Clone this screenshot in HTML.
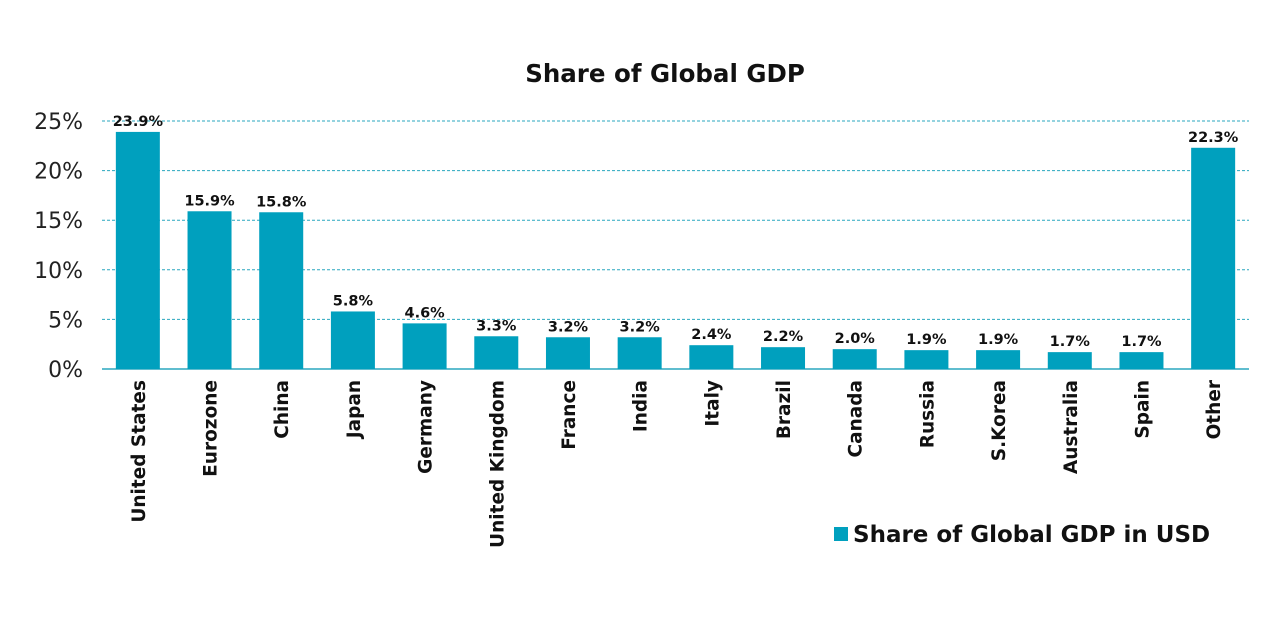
<!DOCTYPE html>
<html><head><meta charset="utf-8"><style>
body{margin:0;background:#fff;}
svg{display:block;font-family:"DejaVu Sans","Liberation Sans",sans-serif;}
</style></head><body>
<svg id="chart" width="1280" height="632">
<text x="665" y="82" text-anchor="middle" font-size="24.5" font-weight="bold" fill="#111">Share of Global GDP</text>
<g id="grid"></g><g id="bars"></g><g id="labels"></g>
<rect x="834" y="527" width="14" height="14" fill="#00A0BE"/>
<text x="853" y="542" font-size="23" font-weight="bold" fill="#111">Share of Global GDP in USD</text>
</svg>
<script>
const categories=["United States","Eurozone","China","Japan","Germany","United Kingdom","France","India","Italy","Brazil","Canada","Russia","S.Korea","Australia","Spain","Other"];
const values=[23.9,15.9,15.8,5.8,4.6,3.3,3.2,3.2,2.4,2.2,2.0,1.9,1.9,1.7,1.7,22.3];
const ticks=[0,5,10,15,20,25];
const NS="http://www.w3.org/2000/svg";
const x0=102,x1=1249,y0=369,ppu=9.92;
const band=(x1-x0)/categories.length;
const xc=i=>x0+band*(i+0.5);
const y=v=>y0-v*ppu;
function mk(t,a,p){const e=document.createElementNS(NS,t);for(const k in a)e.setAttribute(k,a[k]);p.appendChild(e);return e;}
const g=document.getElementById('grid'),b=document.getElementById('bars'),l=document.getElementById('labels');
ticks.forEach(t=>{
 const ln=mk('line',{x1:x0,x2:x1,y1:y(t),y2:y(t),stroke:'#2aa7bf','stroke-width':t?1:1.5,'stroke-dasharray':t?'3,2':'none'},g);
 
 
 const tx=mk('text',{x:83,y:y(t)+8,'text-anchor':'end','font-size':22,fill:'#222'},g);
 tx.textContent=t+'%';
 
 
});
categories.forEach((c,i)=>{
 const r=mk('rect',{x:xc(i)-22,y:y(values[i]),width:44,height:values[i]*ppu,fill:'#00A0BE'},b);
 
 
 const v=mk('text',{x:xc(i),y:y(values[i])-6,'text-anchor':'middle','font-size':14.5,'font-weight':'bold',fill:'#111'},l);
 v.textContent=values[i].toFixed(1)+'%';
 
 
 const cl=mk('text',{transform:`translate(${xc(i)+7},380) rotate(-90)`,'text-anchor':'end','font-size':18.5,'font-weight':'bold',fill:'#111'},l);
 cl.textContent=c;
 
 
});
</script>
</body></html>
